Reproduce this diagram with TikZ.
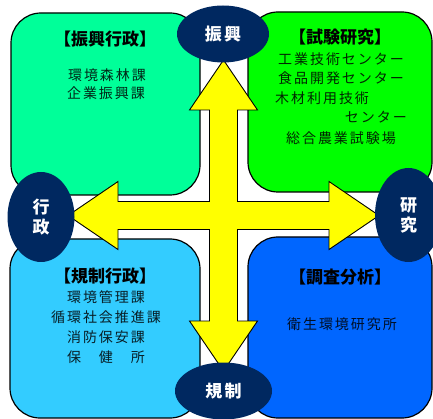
\documentclass[tikz,border=0pt]{standalone}
\usepackage{fontspec}
\setmainfont{Noto Sans CJK JP}
\newfontfamily\jp[LetterSpace=14]{Noto Sans CJK JP}
\newfontfamily\jpo[LetterSpace=12]{Noto Sans CJK JP}
\usetikzlibrary{shapes.geometric}
\definecolor{cTL}{RGB}{0,255,153}
\definecolor{cTR}{RGB}{0,255,0}
\definecolor{cBL}{RGB}{51,204,255}
\definecolor{cBR}{RGB}{0,102,255}
\definecolor{navy}{RGB}{0,40,96}
\definecolor{arrowc}{RGB}{255,255,0}
\begin{document}
\begin{tikzpicture}[x=1pt,y=-1pt,
  box/.style={draw=black, line width=1.2pt, rounded corners=30pt, inner sep=0pt},
  oval/.style={ellipse, fill=navy, inner sep=0pt, text=white, font=\fontsize{17}{20}\selectfont\jpo\bfseries, align=center},
  ttl/.style={anchor=base, font=\fontsize{17}{20}\selectfont\bfseries, inner sep=0pt},
  txt/.style={anchor=base, font=\fontsize{14}{20}\selectfont\jp, inner sep=0pt, text opacity=0.85},
  crossc/.style={fill=arrowc, draw=black, line width=0.9pt, line join=miter}
]
\useasboundingbox (0,0) rectangle (433,419);
% boxes
\node[box, fill=cTL, minimum width=189pt, minimum height=182pt] (tl) at (105.5,104) {};
\node[box, fill=cTR, minimum width=184pt, minimum height=180pt] (tr) at (340,102) {};
\node[box, fill=cBL, minimum width=190pt, minimum height=179pt] (bl) at (105,328.5) {};
\node[box, fill=cBR, minimum width=184pt, minimum height=181pt] (br) at (340,327.5) {};
% cross arrow
\draw[crossc] (223.5,60) -- (257.5,110) -- (237.5,110) -- (237.5,201.5) -- (329,201.5) -- (329,181.5)
  -- (379,215.5) -- (329,249.5) -- (329,229.5) -- (237.5,229.5) -- (237.5,321) -- (257.5,321)
  -- (223.5,371) -- (189.5,321) -- (209.5,321) -- (209.5,229.5) -- (118,229.5) -- (118,249.5)
  -- (68,215.5) -- (118,181.5) -- (118,201.5) -- (209.5,201.5) -- (209.5,110) -- (189.5,110) -- cycle;
% ovals
\node[oval, minimum width=92pt, minimum height=57pt] (zk) at (223,34) {振興};
\node[oval, minimum width=97pt, minimum height=57pt] (ks) at (223.5,391) {規制};
\node[oval, minimum width=67pt, minimum height=90pt] (gs) at (41,217) {行\\政};
\node[oval, minimum width=67pt, minimum height=94pt] (kk) at (408.5,215) {研\\究};
% top-left texts
\node[ttl] (tlt) at (105,45.5) {【振興行政】};
\node[txt] (tl1) at (107,80.3) {環境森林課};
\node[txt] (tl2) at (106,98.3) {企業振興課};
% top-right texts
\node[ttl] (trt) at (340,43.5) {【試験研究】};
\node[txt] (tr1) at (341,64.3) {工業技術センター};
\node[txt] (tr2) at (341,83.3) {食品開発センター};
\node[txt, anchor=base west] (tr3) at (275,103.3) {木材利用技術};
\node[txt, anchor=base east] (tr4) at (407,122.3) {センター};
\node[txt] (tr5) at (341,143.3) {総合農業試験場};
% bottom-left texts
\node[ttl] (blt) at (105,282.5) {【規制行政】};
\node[txt] (bl1) at (106,302.3) {環境管理課};
\node[txt] (bl2) at (106,322.3) {循環社会推進課};
\node[txt] (bl3) at (106,342.3) {消防保安課};
\node[txt] (bl4) at (106,362.3) {保　健　所};
% bottom-right texts
\node[ttl] (brt) at (340,283.5) {【調査分析】};
\node[txt] (br1) at (342,329.3) {衛生環境研究所};
\end{tikzpicture}
\end{document}
